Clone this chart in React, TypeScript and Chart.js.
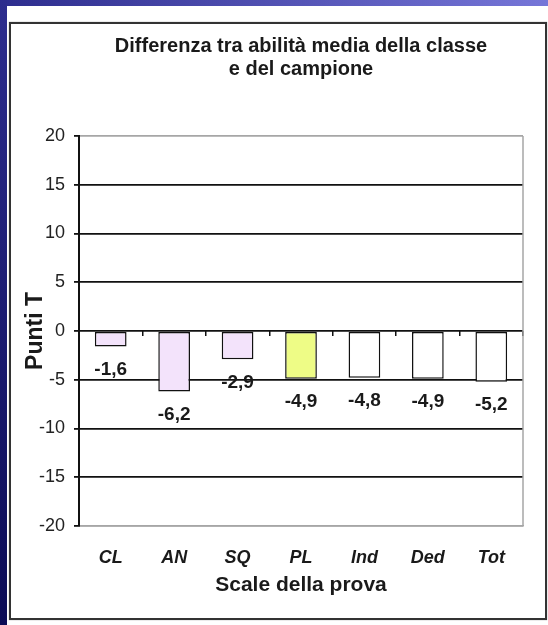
import React, { useEffect, useRef } from "react";
import { Chart, registerables } from "chart.js";

Chart.register(...registerables);

const categories = ["CL", "AN", "SQ", "PL", "Ind", "Ded", "Tot"];
const values = [-1.6, -6.2, -2.9, -4.9, -4.8, -4.9, -5.2];
const barColors = ["#f3e3fb", "#f3e3fb", "#f3e3fb", "#eefc86", "#ffffff", "#ffffff", "#ffffff"];
const yTicks = [-20, -15, -10, -5, 0, 5, 10, 15, 20];
const titleLines = ["Differenza tra abilità media della classe", "e del campione"];
const yTitle = "Punti T";
const xTitle = "Scale della prova";

const FONT = "'Liberation Sans', Arial, Helvetica, sans-serif";

const valueLabels = {
  id: "valueLabels",
  afterDatasetsDraw(chart: any) {
    const ctx = chart.ctx;
    const meta = chart.getDatasetMeta(0);
    ctx.save();
    ctx.font = `bold 19px ${FONT}`;
    ctx.fillStyle = "#1a1a1a";
    ctx.textAlign = "center";
    ctx.textBaseline = "middle";
    meta.data.forEach((bar: any, i: number) => {
      const txt = values[i].toFixed(1).replace(".", ",");
      ctx.fillText(txt, bar.x, bar.y + 23);
    });
    ctx.restore();
  },
};

const plotFrame = {
  id: "plotFrame",
  beforeDatasetsDraw(chart: any) {
    const { ctx, chartArea: a } = chart;
    ctx.save();
    ctx.strokeStyle = "#a6a6a6";
    ctx.lineWidth = 1.5;
    ctx.beginPath();
    ctx.moveTo(a.right, a.top);
    ctx.lineTo(a.right, a.bottom);
    ctx.stroke();
    ctx.restore();
  },
};

export default function App() {
  const ref = useRef<HTMLCanvasElement | null>(null);

  useEffect(() => {
    if (!ref.current) return;
    const chart = new Chart(ref.current, {
      type: "bar",
      data: {
        labels: categories,
        datasets: [
          {
            data: values,
            backgroundColor: barColors,
            borderColor: "#111",
            borderWidth: 1.5,
            borderSkipped: false,
            barPercentage: 0.5,
            categoryPercentage: 1,
          },
        ],
      },
      options: {
        responsive: false,
        devicePixelRatio: 1,
        animation: false,
        layout: { padding: { left: 12, right: 25, top: 30, bottom: 20 } },
        plugins: {
          legend: { display: false },
          tooltip: { enabled: false },
          title: {
            display: true,
            text: titleLines,
            fullSize: false,
            color: "#1a1a1a",
            font: { family: FONT, size: 20, weight: "bold", lineHeight: 1.15 },
            padding: { top: 4.5, bottom: 55.5 },
          },
        },
        scales: {
          x: {
            type: "category",
            offset: true,
            grid: { display: false, offset: true },
            border: { display: true, color: "#a6a6a6", width: 1.5 },
            ticks: {
              color: "#1a1a1a",
              font: { family: FONT, size: 18, weight: "bold", style: "italic" },
              padding: 13,
              maxRotation: 0,
              autoSkip: false,
            },
            title: {
              display: true,
              text: xTitle,
              color: "#1a1a1a",
              font: { family: FONT, size: 21, weight: "bold", lineHeight: 1.2 },
              padding: { top: 0, bottom: 7.4 },
            },
            afterFit: (s: any) => {
              s.height = 79;
            },
          },
          x0: {
            type: "category",
            position: { y: 0 },
            offset: true,
            grid: {
              offset: true,
              drawOnChartArea: false,
              drawTicks: true,
              tickLength: 5,
              color: "#111",
              lineWidth: 1.5,
            },
            ticks: { display: false },
            border: { display: false },
          },
          y: {
            min: -20,
            max: 20,
            afterBuildTicks: (s: any) => {
              s.ticks = yTicks.map((v) => ({ value: v }));
            },
            grid: {
              color: (c: any) =>
                c.tick && Math.abs(c.tick.value) === 20 ? "#a6a6a6" : "#111",
              lineWidth: 1.8,
              tickColor: "#111",
              tickLength: 5,
              drawTicks: true,
            },
            border: { color: "#111", width: 2 },
            ticks: {
              color: "#222",
              font: { family: FONT, size: 18 },
              padding: 9,
            },
            title: {
              display: true,
              text: yTitle,
              color: "#1a1a1a",
              font: { family: FONT, size: 23, weight: "bold", lineHeight: 1.2 },
              padding: { top: 10.2, bottom: 0 },
            },
            afterFit: (s: any) => {
              s.width = 67;
            },
          },
        },
      } as any,
      plugins: [valueLabels, plotFrame],
    });
    return () => chart.destroy();
  }, []);

  return (
    <div
      style={{
        position: "absolute",
        left: 0,
        top: 0,
        width: 548,
        height: 625,
        background: "#ffffff",
        overflow: "hidden",
      }}
    >
      <div
        style={{
          position: "absolute",
          left: 0,
          top: 0,
          width: 548,
          height: 6,
          background: "linear-gradient(to right, #2d2d8e, #7676d8)",
        }}
      />
      <div
        style={{
          position: "absolute",
          left: 0,
          top: 0,
          width: 7,
          height: 625,
          background: "linear-gradient(to bottom, #2d2d8e, #0b0b55)",
        }}
      />
      <div
        style={{
          position: "absolute",
          left: 9,
          top: 22,
          width: 538,
          height: 598,
          boxSizing: "border-box",
          border: "2px solid #333",
          boxShadow: "0 0 1px #888",
        }}
      />
      <canvas
        ref={ref}
        width={548}
        height={625}
        style={{ position: "absolute", left: 0, top: 0 }}
      />
    </div>
  );
}
